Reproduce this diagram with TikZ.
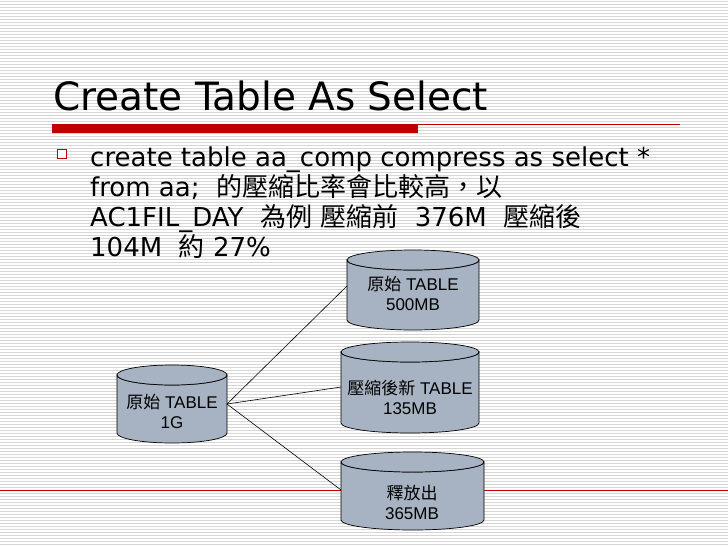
\documentclass[tikz,border=0pt]{standalone}
\usepackage{fontspec}
\setmainfont{DejaVu Sans}
\newfontfamily\cjk{Noto Sans CJK TC}
\newfontfamily\arl{Liberation Sans}
\newfontfamily\arlcjk{Noto Sans CJK TC}
\definecolor{cylfill}{HTML}{A7B3C2}
\definecolor{slidered}{HTML}{C00000}
\newcommand{\mycyl}[5]{% L R T B name
  \pgfmathsetmacro{\cx}{(#1+#2)/2}\pgfmathsetmacro{\rx}{(#2-#1)/2}
  \draw[cylline] (#1,#3+10) -- (#1,#4-10) arc[start angle=180,end angle=0,x radius=\rx,y radius=10] -- (#2,#3+10) arc[start angle=0,end angle=180,x radius=\rx,y radius=10] -- cycle;
  \draw[cylline] (\cx,#3+10) ellipse[x radius=\rx,y radius=10];
}
\begin{document}
\begin{tikzpicture}[x=1pt,y=-1pt,
  cylline/.style={draw=black,fill=cylfill,line width=0.7pt},
  cyltext/.style={font=\arl\fontsize{17}{20}\selectfont,align=center,inner sep=0pt},
  conn/.style={draw=black,line width=0.6pt}]
\useasboundingbox (0,0) rectangle (728,546);
\fill[white] (0,0) rectangle (728,546);
\foreach \y in {1,4,...,546} \draw[black!16,line width=0.6pt] (0,\y) -- (728,\y);
% title
\node[anchor=base west,inner sep=0pt,font=\fontsize{39}{44}\selectfont] (title) at (53,110) {Create Table As Select};
\fill[slidered] (52,124) rectangle (418,133);
\draw[slidered,line width=0.8pt] (418,124.5) -- (680,124.5);
\draw[slidered,line width=0.8pt] (0,490) -- (728,490);
% bullet
\draw[slidered,line width=1pt,fill=white] (57,149) rectangle (66,158);
\node[anchor=north west,inner sep=0pt,align=left,font=\fontsize{26}{30}\selectfont] (body) at (90,147)
 {create table aa\_comp compress as select *\\
  from aa;\ \ {\cjk 的壓縮比率會比較高，以}\\
  AC1FIL\_DAY\ \ {\cjk 為例} {\cjk 壓縮前}\ \ 376M\ \ {\cjk 壓縮後}\\
  104M\ \ {\cjk 約} 27\%};
% cylinders
\mycyl{117}{227}{365}{443}{src}
\mycyl{347}{479}{250}{330}{a}
\mycyl{341}{479}{342}{433}{b}
\mycyl{341}{484}{452}{530}{c}
\node[cyltext] (tsrc) at (172,411) {{\arlcjk 原始} TABLE\\1G};
\node[cyltext] (ta) at (413,293) {{\arlcjk 原始} TABLE\\500MB};
\node[cyltext] (tb) at (410,397) {{\arlcjk 壓縮後新} TABLE\\135MB};
\node[cyltext] (tc) at (412,502) {{\arlcjk 釋放出}\\365MB};
\coordinate (s) at (227,404);
\coordinate (ea) at (347,286);
\coordinate (eb) at (341,387);
\coordinate (ec) at (341,490);
\draw[conn] (s) -- (ea);
\draw[conn] (s) -- (eb);
\draw[conn] (s) -- (ec);
\end{tikzpicture}
\end{document}
